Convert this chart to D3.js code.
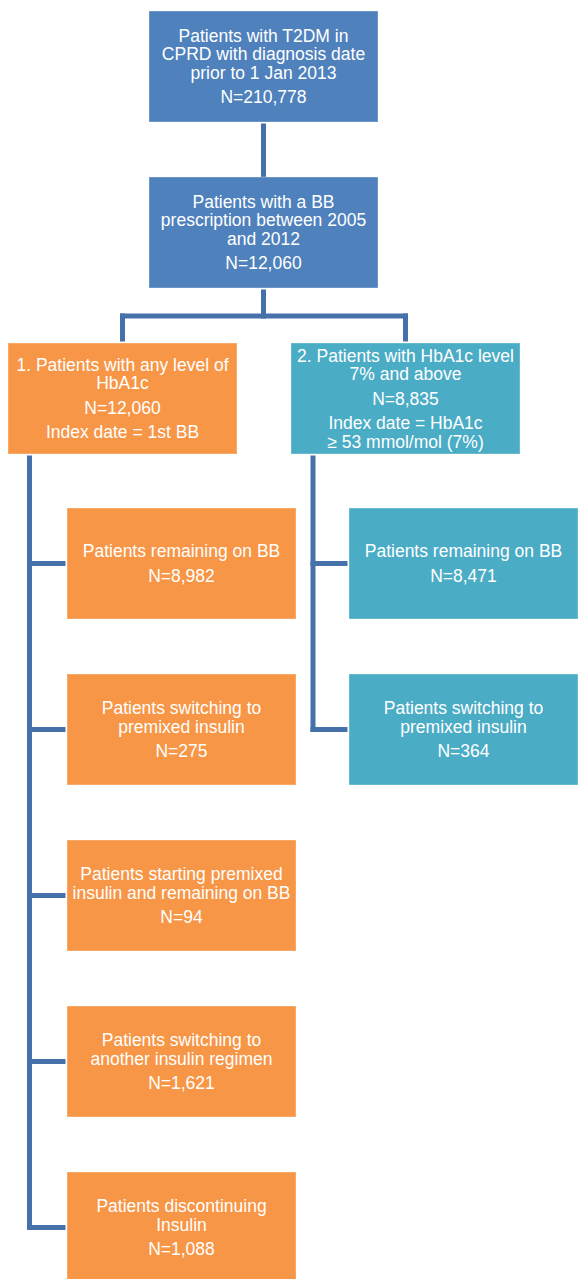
<!DOCTYPE html>
<html>
<head>
<meta charset="utf-8">
<script src="https://cdn.jsdelivr.net/npm/d3@7"></script>
<style>
  body { margin: 0; background: #fff; }
  text { font-family: "Liberation Sans", Arial, sans-serif; fill: #fff; }
</style>
</head>
<body>
<div class="chart"></div>
<script>
// flow data
var stageLabels = [
  ["Patients with T2DM in", "CPRD with diagnosis date", "prior to 1 Jan 2013"],
  ["Patients with a BB", "prescription between 2005", "and 2012"]
];
var stageCounts = [210778, 12060];

var cohortLabels = [
  ["1. Patients with any level of", "HbA1c"],
  ["2. Patients with HbA1c level", "7% and above"]
];
var cohortCounts = [12060, 8835];
var cohortIndex = [
  ["Index date = 1st BB"],
  ["Index date = HbA1c", "\u2265 53 mmol/mol (7%)"]
];

var outcomeLabels = [
  ["Patients remaining on BB"],
  ["Patients switching to", "premixed insulin"],
  ["Patients starting premixed", "insulin and remaining on BB"],
  ["Patients switching to", "another insulin regimen"],
  ["Patients discontinuing", "Insulin"]
];
var cohort1Counts = [8982, 275, 94, 1621, 1088];
var cohort2Counts = [8471, 364];

var svgWidth = 579;
var svgHeight = 1279;
var boxW = 229;
var boxH = 111;
var lineColor = "#4670a9";
var colors = { blue: "#4f81bd", orange: "#f79646", teal: "#4bacc6" };
var fmt = d3.format(",");

var svg = d3.select(".chart")
  .append("svg")
  .attr("width", svgWidth)
  .attr("height", svgHeight);

var lineG = svg.append("g");
var boxG = svg.append("g");

// row position of each child box (top edge)
var rowY = d3.scaleLinear().domain([0, 1]).range([508, 674]);

// draws one box with paragraphs of text centred inside it
function drawBox(x, y, fill, paragraphs) {
  var g = boxG.append("g").attr("transform", `translate(${x}, ${y})`);
  g.append("rect")
    .attr("width", boxW)
    .attr("height", boxH)
    .attr("fill", fill)
    .attr("stroke", "#fff")
    .attr("stroke-opacity", 0.35)
    .attr("stroke-width", 1);

  var lines = [];
  var pos = 0;
  paragraphs.forEach(function(p, pi) {
    if (pi > 0) pos += 24.5;
    p.forEach(function(t, li) {
      if (li > 0) pos += 18.5;
      lines.push({ text: t, off: pos });
    });
  });
  var start = boxH / 2 - pos / 2;
  g.selectAll("text")
    .data(lines)
    .enter()
    .append("text")
    .attr("x", boxW / 2)
    .attr("y", d => start + d.off)
    .attr("dy", "0.35em")
    .attr("text-anchor", "middle")
    .attr("font-size", 17.5)
    .text(d => d.text);
}

function seg(x1, y1, x2, y2) {
  lineG.append("line")
    .attr("x1", x1).attr("y1", y1)
    .attr("x2", x2).attr("y2", y2)
    .attr("stroke", lineColor)
    .attr("stroke-width", 5)
    .attr("stroke-linecap", "square");
}

// top two stages
var stageX = 149;
var stageY = [11, 177];
stageLabels.forEach(function(lbl, i) {
  drawBox(stageX, stageY[i], colors.blue, [lbl, ["N=" + fmt(stageCounts[i])]]);
});
var midX = stageX + boxW / 2;
seg(midX, stageY[0] + boxH + 4, midX, stageY[1] - 2);

// cohorts
var cohortX = [8, 291];
var cohortY = 343;
var cohortFill = [colors.orange, colors.teal];
var splitY = 316;
seg(midX, stageY[1] + boxH + 4, midX, splitY);
seg(cohortX[0] + boxW / 2, splitY, cohortX[1] + boxW / 2, splitY);
cohortLabels.forEach(function(lbl, i) {
  var cx = cohortX[i] + boxW / 2;
  seg(cx, splitY, cx, cohortY - 4);
  drawBox(cohortX[i], cohortY, cohortFill[i],
    [lbl, ["N=" + fmt(cohortCounts[i])], cohortIndex[i]]);
});

// outcomes for each cohort
var trunkX = [29.5, 313];
var childX = [67, 349];
[cohort1Counts, cohort2Counts].forEach(function(counts, c) {
  var lastMid = rowY(counts.length - 1) + boxH / 2;
  seg(trunkX[c], cohortY + boxH + 4, trunkX[c], lastMid);
  counts.forEach(function(n, i) {
    var top = rowY(i);
    seg(trunkX[c], top + boxH / 2, childX[c] - 4, top + boxH / 2);
    drawBox(childX[c], top, cohortFill[c], [outcomeLabels[i], ["N=" + fmt(n)]]);
  });
});
</script>
</body>
</html>
